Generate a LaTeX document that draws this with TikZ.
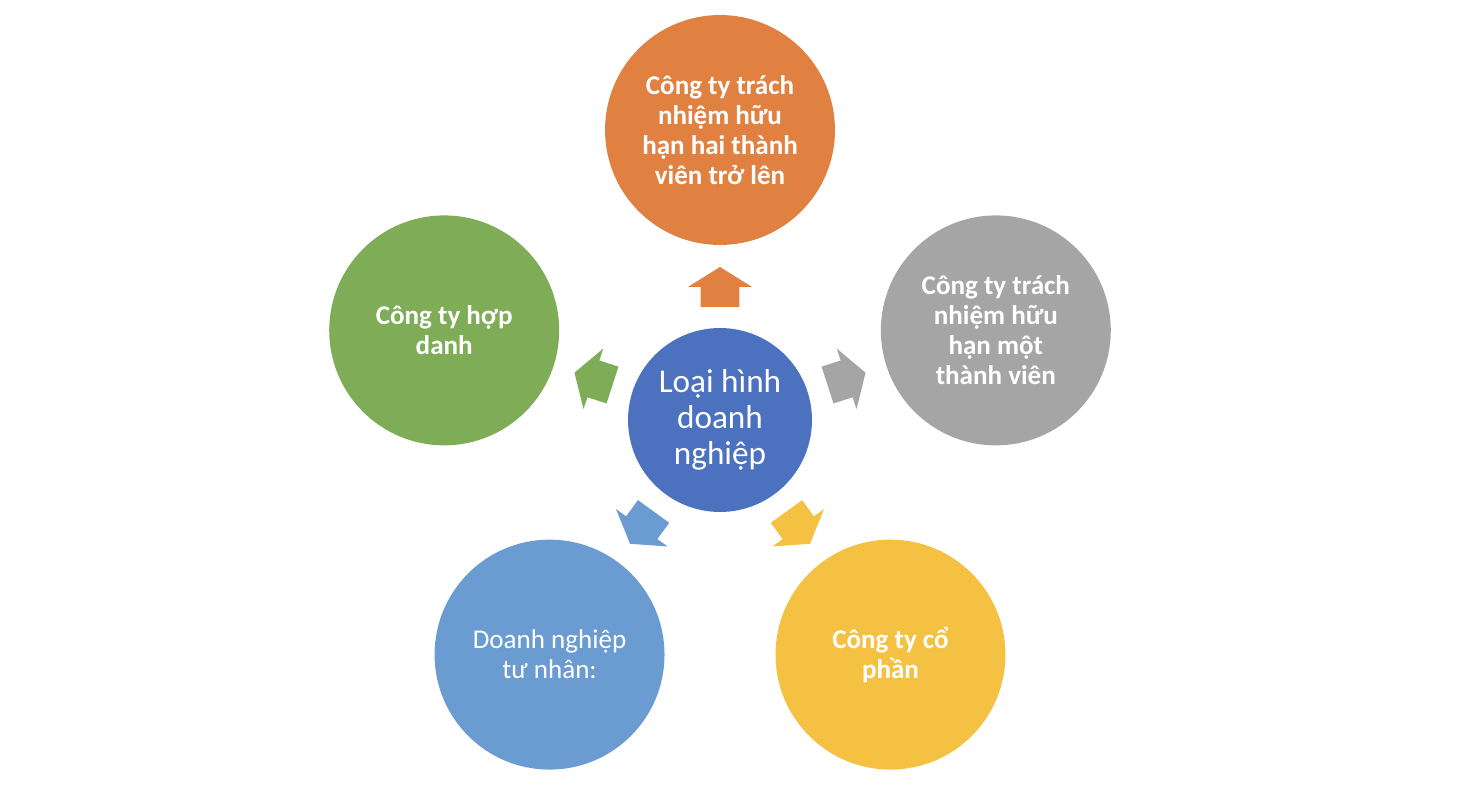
\documentclass[tikz,border=0pt]{standalone}
\usepackage{fontspec}
\setmainfont{Carlito}
\usetikzlibrary{shapes.arrows, calc}
\definecolor{hub}{RGB}{76, 113, 191}
\definecolor{twomem}{RGB}{224, 129, 66}
\definecolor{onemem}{RGB}{165, 165, 165}
\definecolor{joint}{RGB}{127, 172, 86}
\definecolor{private}{RGB}{106, 156, 209}
\definecolor{stock}{RGB}{245, 193, 67}

\begin{document}
\begin{tikzpicture}[
    x=0.02cm, y=0.02cm,
    hubcircle/.style={
        circle, fill=hub, draw=none, inner sep=0pt,
        minimum size=3.68cm, text=white, align=center,
        font=\fontsize{18.9}{20.5}\selectfont,
    },
    kind/.style={
        circle, fill=#1, draw=none, inner sep=0pt,
        minimum size=4.6cm, text=white, align=center,
        font=\fontsize{15.4}{17}\selectfont\bfseries,
    },
    pointer/.style={
        single arrow, fill=#1, draw=none,
        minimum height=0.8cm, minimum width=1.26cm,
        inner xsep=0pt, inner ysep=0.38cm,
        single arrow head extend=0.25cm,
        single arrow tip angle=116,
    },
]

\useasboundingbox (0, 0) rectangle (1466, 796);

% Distance of outer circles and arrows from the hub
\def\far{290}
\def\near{127}

% =============== Hub ===============
\node[hubcircle] (hub) at (720, 376) {Loại hình\\doanh\\nghiệp};

% =============== Outer circles ===============
\node[kind=twomem] (twomem) at ($(hub)+(90:\far)$)
    {Công ty trách\\nhiệm hữu\\hạn hai thành\\viên trở lên};
\node[kind=onemem] (onemem) at ($(hub)+(18:\far)$)
    {Công ty trách\\nhiệm hữu\\hạn một\\thành viên};
\node[kind=stock] (stock) at ($(hub)+(-54:\far)$)
    {Công ty cổ\\phần};
\node[kind=private, font=\fontsize{15.4}{17}\selectfont] (private)
    at ($(hub)+(-126:\far)$) {Doanh nghiệp\\tư nhân:};
\node[kind=joint] (joint) at ($(hub)+(162:\far)$)
    {Công ty hợp\\danh};

% =============== Arrows from hub ===============
\node[pointer=twomem, rotate=90]   (to-twomem)  at ($(hub)+(90:\near)$) {};
\node[pointer=onemem, rotate=18]   (to-onemem)  at ($(hub)+(18:\near)$) {};
\node[pointer=stock, rotate=-54]   (to-stock)   at ($(hub)+(-54:\near)$) {};
\node[pointer=private, rotate=-126] (to-private) at ($(hub)+(-126:\near)$) {};
\node[pointer=joint, rotate=162]   (to-joint)   at ($(hub)+(162:\near)$) {};

\end{tikzpicture}
\end{document}
